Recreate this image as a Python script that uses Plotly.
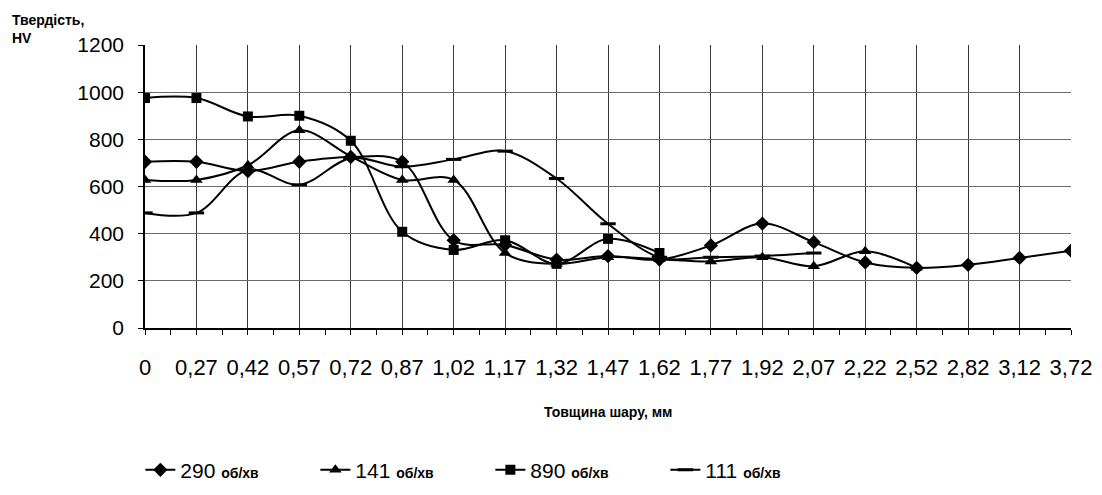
import plotly.graph_objects as go

categories = ["0", "0,27", "0,42", "0,57", "0,72", "0,87", "1,02", "1,17", "1,32", "1,47",
              "1,62", "1,77", "1,92", "2,07", "2,22", "2,52", "2,82", "3,12", "3,72"]

s290 = [705, 705, 665, 705, 725, 705, 372, 352, 290, 305, 290, 350, 443, 364, 278, 255, 268, 297, 328]
s141 = [628, 628, 690, 838, 728, 628, 628, 318, 272, 300, 292, 282, 300, 262, 325, 255]
s890 = [975, 975, 897, 900, 794, 408, 331, 372, 272, 378, 318]
s111 = [488, 488, 670, 607, 720, 684, 715, 750, 634, 442, 300, 300, 305, 318]

series_names = ["290", "141", "890", "111"]
series_values = [s290, s141, s890, s111]
symbols = ["diamond", "triangle-up", "square", "line-ew"]
sizes = [11, 11, 10, 11]

y_ticks = [0, 200, 400, 600, 800, 1000, 1200]

idx = list(range(len(categories)))

fig = go.Figure()
for name, vals, sym, sz in zip(series_names, series_values, symbols, sizes):
    fig.add_trace(go.Scatter(
        x=idx[:len(vals)], y=vals,
        mode="lines+markers",
        name=f"{name} <span style='font-size:14px;font-weight:bold'>об/хв</span>",
        line=dict(color="black", width=2, shape="spline", smoothing=1.0),
        marker=dict(symbol=sym, size=sz, color="black",
                    line=dict(color="black", width=3 if sym == "line-ew" else 0)),
    ))

font_main = "Liberation Sans, Arial, sans-serif"

fig.update_layout(
    width=1094, height=487,
    paper_bgcolor="white", plot_bgcolor="white",
    margin=dict(l=137, r=31, t=37, b=167, autoexpand=False),
    font=dict(family=font_main, color="black"),
    showlegend=True,
    legend=dict(
        orientation="h", x=-0.005, xanchor="left", y=-0.43, yanchor="top",
        font=dict(size=21, family=font_main, color="black"),
        entrywidth=130, entrywidthmode="pixels",
        bgcolor="rgba(0,0,0,0)",
    ),
    xaxis=dict(
        range=[0, len(categories) - 1],
        tickmode="array", tickvals=idx, ticktext=categories,
        showgrid=True, gridcolor="#3a3a3a", gridwidth=1,
        showline=True, linecolor="black", linewidth=1.5,
        ticks="outside", ticklen=5, tickcolor="black",
        minor=dict(dtick=0.5, tick0=0, ticks="outside", ticklen=5, tickcolor="black", showgrid=False),
        tickfont=dict(size=22, family=font_main, color="black"),
        ticklabelstandoff=14,
        zeroline=False, fixedrange=True,
    ),
    yaxis=dict(
        range=[0, 1200],
        tickmode="array", tickvals=y_ticks, ticktext=[str(v) for v in y_ticks],
        showgrid=True, gridcolor="#6a6a6a", gridwidth=1,
        showline=True, linecolor="black", linewidth=1.5,
        ticks="outside", ticklen=5, tickcolor="black",
        tickfont=dict(size=21, family=font_main, color="black"),
        ticklabelstandoff=10,
        zeroline=False, fixedrange=True,
    ),
    annotations=[
        dict(text="<b>Твердість,<br>HV</b>", xref="paper", yref="paper",
             x=-0.146, y=1.125, xanchor="left", yanchor="top", align="left",
             showarrow=False, font=dict(size=14, family=font_main, color="black")),
        dict(text="<b>Товщина шару, мм</b>", xref="paper", yref="paper",
             x=0.5, y=-0.297, xanchor="center", yanchor="middle",
             showarrow=False, font=dict(size=14, family=font_main, color="black")),
    ],
)

fig.write_html("out.html")
